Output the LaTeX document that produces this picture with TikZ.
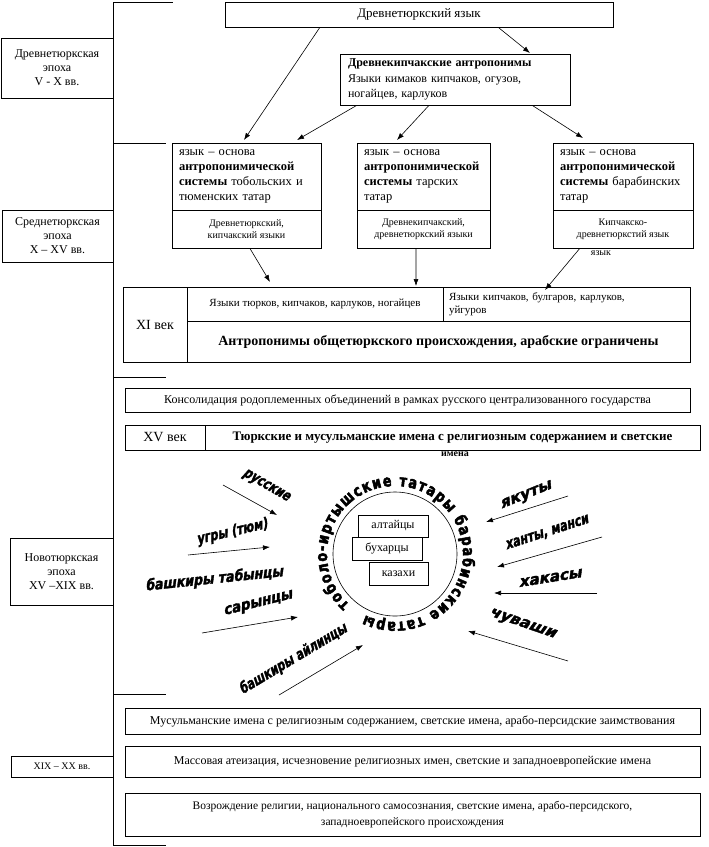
\documentclass[tikz,border=0pt]{standalone}
\usepackage{fontspec}
\setmainfont{Liberation Serif}
\newfontfamily\wafont{DejaVu Sans}[FakeStretch=0.75, FakeSlant=0.22, FakeBold=2]
\newfontfamily\circfont{DejaVu Sans}[FakeStretch=0.8, FakeBold=3]
\usetikzlibrary{arrows.meta,decorations.text,calc}
\newcommand\fs[2]{\fontsize{#1}{#2}\selectfont}
\begin{document}
\begin{tikzpicture}[x=1pt,y=-1pt,
  box/.style={draw, line width=0.8pt, inner sep=0pt, align=center, fill=white},
  conn/.style={line width=0.6pt, -{Latex[length=7pt,width=5pt]}},
  wa/.style={font=\wafont\bfseries\fs{15}{15}, inner sep=0pt},
  ln/.style={line width=0.8pt}]
\useasboundingbox[fill=white] (0,0) rectangle (709,847);

% bracket
\draw[ln] (113,2) -- (113,845);
\draw[ln] (113,2) -- (173,2);
\draw[ln] (113,143) -- (166,143);
\draw[ln] (113,377) -- (166,377);
\draw[ln] (113,694) -- (166,694);
\draw[ln] (113,845) -- (166,845);

% era labels
\node[box, minimum width=112, minimum height=60, font=\fs{12}{14}] (era1) at (57,68) {Древнетюркская\\эпоха\\V - X вв.};
\node[box, minimum width=111, minimum height=52, font=\fs{12}{14}] (era2) at (57.5,236) {Среднетюркская\\эпоха\\X – XV вв.};
\node[box, minimum width=103, minimum height=67, font=\fs{12}{14}] (era3) at (61.5,571.5) {Новотюркская\\эпоха\\XV –XIX вв.};
\node[box, minimum width=102, minimum height=21, font=\fs{10}{12}] (era4) at (62,766.5) {XIX – XX вв.};

% top part
\node[box, minimum width=388, minimum height=25, font=\fs{13}{15}] (top) at (419,14.5) {Древнетюркский язык};
\node[box, minimum width=230, minimum height=51, text width=214, inner xsep=8pt, align=left, font=\fs{12}{15.5}] (kip) at (455,79.5) {\textbf{Древнекипчакские антропонимы}\\Языки кимаков кипчаков, огузов,\\ногайцев, карлуков};

\node[box, minimum width=149, minimum height=67, text width=135, inner xsep=7pt, align=left, font=\fs{12.5}{15}] (Aup) at (246.5,176.5) {язык – основа\\\textbf{антропонимической}\\\textbf{системы} тобольских и\\тюменских татар};
\node[box, minimum width=149, minimum height=38, font=\fs{10}{12}] (Alow) at (246.5,229) {Древнетюркский,\\кипчакский языки};
\node[box, minimum width=133, minimum height=67, text width=119, inner xsep=7pt, align=left, font=\fs{12.5}{15}] (Bup) at (423.5,176.5) {язык – основа\\\textbf{антропонимической}\\\textbf{системы} тарских\\татар};
\node[box, minimum width=133, minimum height=38, font=\fs{10}{12}] (Blow) at (423.5,229) {Древнекипчакский,\\древнетюркский языки};
\node[box, minimum width=140, minimum height=67, text width=126, inner xsep=7pt, align=left, font=\fs{12.5}{15}] (Cup) at (623,176.5) {язык – основа\\\textbf{антропонимической}\\\textbf{системы} барабинских\\татар};
\node[box, minimum width=140, minimum height=38, font=\fs{10}{12}] (Clow) at (623,229) {Кипчакско-\\древнетюркстий язык};
\node[inner sep=0pt, font=\fs{10}{12}] (Cover) at (601,253) {язык};

\coordinate (tA) at (244,140);
\coordinate (tK) at (530,53);
\coordinate (tA2) at (297,140);
\coordinate (tB) at (397,140);
\coordinate (tC) at (583,138);
\draw[conn] ($(top.south west)!0.245!(top.south east)$) -- (tA);
\draw[conn] ($(top.south west)!0.704!(top.south east)$) -- (tK);
\draw[conn] ($(kip.south west)!0.074!(kip.south east)$) -- (tA2);
\draw[conn] ($(kip.south west)!0.387!(kip.south east)$) -- (tB);
\draw[conn] ($(kip.south west)!0.835!(kip.south east)$) -- (tC);

% XI row
\node[box, minimum width=64, minimum height=75, font=\fs{14}{16}] (xi) at (155,324.5) {XI век};
\node[box, minimum width=256, minimum height=34, font=\fs{11}{13}] (xi1) at (315,304) {Языки тюрков, кипчаков, карлуков, ногайцев};
\node[box, minimum width=247, minimum height=34, text width=235, inner xsep=6pt, align=left, font=\fs{11}{12.5}] (xi2) at (566.5,304) {Языки кипчаков, булгаров, карлуков,\\уйгуров};
\node[box, minimum width=503, minimum height=41, font=\bfseries\fs{14}{16}] (xi3) at (438.5,341.5) {Антропонимы общетюркского происхождения, арабские ограничены};

\coordinate (tX1) at (270,282);
\coordinate (tX2) at (416,286);
\coordinate (tX3) at (545,290);
\draw[conn] ($(Alow.south west)!0.523!(Alow.south east)$) -- (tX1);
\draw[conn] ($(Blow.south west)!0.444!(Blow.south east)$) -- (tX2);
\draw[conn] ($(Clow.south west)!0.193!(Clow.south east)$) -- (tX3);

% XV
\node[box, minimum width=565, minimum height=24, font=\fs{12}{14}] (cons) at (407.5,400) {Консолидация родоплеменных объединений в рамках русского централизованного государства};
\node[box, minimum width=80, minimum height=25, font=\fs{14}{16}] (xv) at (165,437.5) {XV век};
\node[box, minimum width=495, minimum height=25, font=\bfseries\fs{13}{15}] (xvr) at (452.5,437.5) {Тюркские и мусульманские имена с религиозным содержанием и светские};
\node[inner sep=0pt, font=\bfseries\fs{10}{12}] (xvo) at (455,454) {имена};

% circle
\node[draw, circle, minimum size=124, inner sep=0pt, line width=0.6pt] (circ) at (395,554) {};
\node[box, minimum width=70, minimum height=22, font=\fs{12}{14}] (alt) at (393,526) {алтайцы};
\node[box, minimum width=70, minimum height=23, font=\fs{12}{14}] (buh) at (387,548.5) {бухарцы};
\node[box, minimum width=59, minimum height=23, font=\fs{12}{14}] (kaz) at (398.5,573.5) {казахи};
\begin{scope}[shift={(395,554)}, y=1pt]
\path[decorate, decoration={text along path, text={|\circfont\bfseries\fs{16}{16}|тоболо-иртышские татары барабинские татары}, text align={fit to path}}] (228:68) arc[start angle=228, end angle=-116, radius=68];
\end{scope}

% peoples
\node[wa, rotate=-30] (rus) at (266,486) {русские};
\node[wa, rotate=13] (ugr) at (232,532) {угры (тюм)};
\node[wa, rotate=6] (bt) at (214,579) {\scalebox{1.12}[1]{башкиры табынцы}};
\node[wa, rotate=14] (sar) at (258,604) {\scalebox{1.2}[1]{сарынцы}};
\node[wa, rotate=31] (ba) at (293,659) {башкиры айлинцы};
\node[wa, rotate=22] (yak) at (526,496) {\scalebox{1.4}[1]{якуты}};
\node[wa, rotate=18] (han) at (547,533) {ханты, манси};
\node[wa, rotate=9] (hak) at (550,578) {\scalebox{1.35}[1]{хакасы}};
\node[wa, rotate=-19] (chu) at (522,624) {\scalebox{1.4}[1]{чуваши}};

\coordinate (rs) at (223,485); \coordinate (re) at (277,515);
\coordinate (us) at (188,555); \coordinate (ue) at (270,547);
\coordinate (ss) at (202,633); \coordinate (se) at (298,617);
\coordinate (as) at (279,695); \coordinate (ae) at (363,645);
\coordinate (ys) at (568,496); \coordinate (ye) at (486,522);
\coordinate (hs) at (602,537); \coordinate (he) at (497,567);
\coordinate (ks) at (597,593); \coordinate (ke) at (494,593);
\coordinate (cs) at (568,661); \coordinate (ce) at (468,631);
\draw[conn] (rs) -- (re);
\draw[conn] (us) -- (ue);
\draw[conn] (ss) -- (se);
\draw[conn] (as) -- (ae);
\draw[conn] (ys) -- (ye);
\draw[conn] (hs) -- (he);
\draw[conn] (ks) -- (ke);
\draw[conn] (cs) -- (ce);

% bottom
\node[box, minimum width=575, minimum height=26, font=\fs{12}{14}] (b1) at (412.5,721) {Мусульманские имена с религиозным содержанием, светские имена, арабо-персидские заимствования};
\node[box, minimum width=575, minimum height=31, font=\fs{12}{14}] (b2) at (412.5,761.5) {Массовая атеизация, исчезновение религиозных имен, светские и западноевропейские имена};
\node[box, minimum width=575, minimum height=43, font=\fs{11.5}{16}] (b3) at (412.5,814.5) {Возрождение религии, национального самосознания, светские имена, арабо-персидского,\\западноевропейского происхождения};
\end{tikzpicture}
\end{document}
